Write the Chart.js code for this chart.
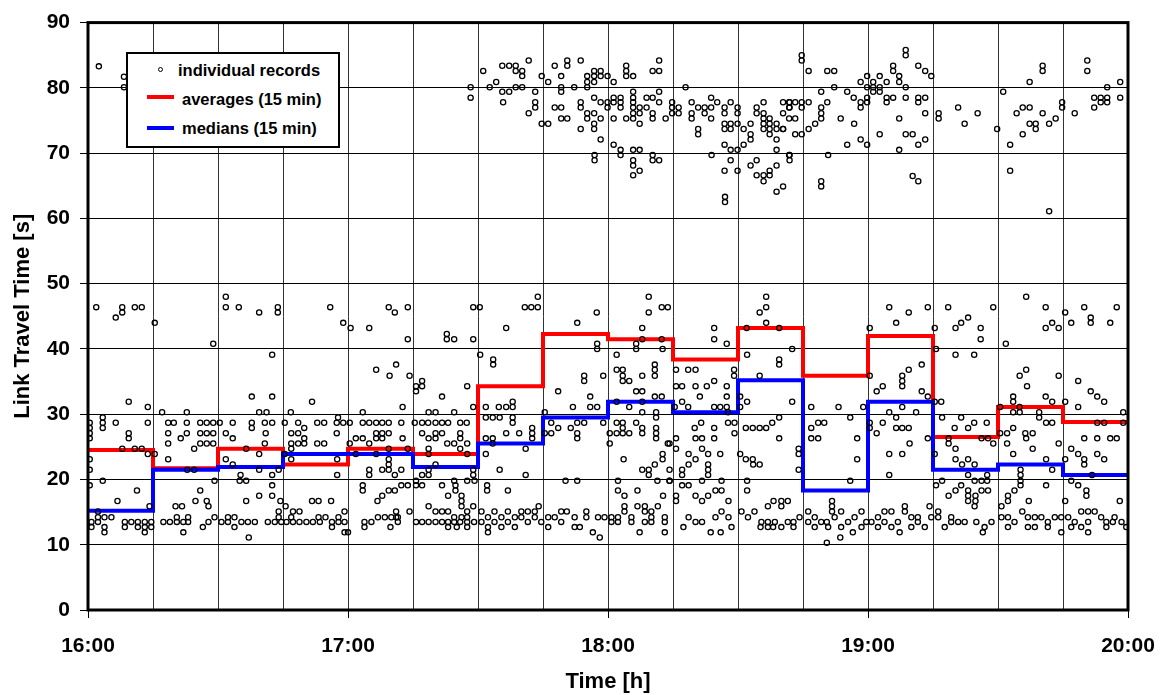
<!DOCTYPE html>
<html>
<head>
<meta charset="utf-8">
<title>Link Travel Time</title>
<script src="https://cdn.jsdelivr.net/npm/chart.js@4.4.1/dist/chart.umd.min.js"></script>
<style>
    html, body { margin: 0; padding: 0; background: #fff; }
    #wrap { position: relative; width: 1160px; height: 695px; }
    #legend {
        position: absolute; left: 126px; top: 52px; width: 214px; height: 96px;
        box-sizing: border-box; border: 2px solid #000; background: #fff;
        font: bold 16.5px "Liberation Sans", Arial, sans-serif; color: #000;
    }
    #legend .txt { position: absolute; line-height: 20px; white-space: nowrap; }
    #legend .dot { position: absolute; width: 3px; height: 3px; border: 1px solid #000; border-radius: 50%; }
    #legend .bar { position: absolute; width: 27px; height: 4px; }
</style>
</head>
<body>
<div id="wrap">
    <canvas id="chart" width="1160" height="695"></canvas>
    <div id="legend">
        <span class="dot" style="left:29.5px; top:12.5px;"></span>
        <span class="txt" style="left:50px; top:5.5px;">individual records</span>
        <span class="bar" style="left:19px; top:41px; background:#ff0000;"></span>
        <span class="txt" style="left:54px; top:34.5px;">averages (15 min)</span>
        <span class="bar" style="left:19px; top:71.5px; background:#0000ff;"></span>
        <span class="txt" style="left:54px; top:64px;">medians (15 min)</span>
    </div>
</div>
<script>
"use strict";

// ===== DATA =====
// x values are minutes after 16:00
const hourLabels = ['16:00', '17:00', '18:00', '19:00', '20:00'];
const slotStarts = [0, 15, 30, 45, 60, 75, 90, 105, 120, 135, 150, 165, 180, 195, 210, 225, 240];
const averages = [24.5, 21.7, 24.7, 22.3, 24.7, 23.9, 34.3, 42.3, 41.5, 38.4, 43.2, 35.9, 42.0, 26.5, 31.1, 28.8];
const medians = [15.2, 21.5, 21.9, 23.9, 23.9, 21.9, 25.5, 29.5, 31.9, 30.3, 35.2, 18.3, 31.9, 21.5, 22.3, 20.7];

// individual records [minute, seconds]
const records = [
    // 16:00 - 17:00
    [1.9,46.4],[6.4,44.8],[7.9,46.4],[7.9,45.6],[10.8,46.4],[12.4,46.4],[15.4,44.0],[15.4,23.9],
    [9.4,31.9],[13.8,31.1],[0.4,28.7],[0.4,27.9],[0.4,27.1],[0.4,26.3],[3.4,29.5],[3.4,28.7],[3.4,27.9],
    [6.4,28.7],[9.4,27.1],[9.4,26.3],[7.9,24.7],[10.8,24.7],[12.4,24.7],[13.8,28.7],[13.8,23.9],[0.4,23.1],
    [0.4,21.5],[3.4,19.8],[0.4,19.1],[11.3,18.3],[6.8,16.7],[14.2,15.9],[2.3,15.1],
    [0.8,13.5],[2.3,14.2],[3.8,14.2],[5.4,14.2],[8.5,13.5],[10,13.5],[11.5,13.5],[13.1,13.5],[14.6,13.5],
    [0.8,12.7],[2.3,13.5],[3.8,12.7],[8.5,12.7],[11.5,12.7],[13.1,12.7],[14.6,12.7],[3.8,11.9],[13.1,11.9],
    [2.5,83.3],[8.3,81.7],[8.3,80.1],
    [17.1,30.3],[22.8,30.3],[18.5,28.7],[19.8,28.7],[22.8,28.7],[25.9,28.7],[27.4,28.7],[28.9,28.7],
    [18.5,27.1],[22.8,27.1],[25.9,27.1],[27.4,27.1],[28.9,27.1],[21.4,26.3],[18.5,25.5],[25.9,25.5],
    [27.4,25.5],[28.9,25.5],[24.5,24.7],[18.5,23.1],[22.9,21.5],[24.5,21.5],[29.2,19.8],[25.9,18.3],
    [24.8,16.7],[27.4,16.7],[27.8,15.9],[20.2,15.9],[21.7,15.9],[20.5,14.2],[23.1,14.2],[29.2,14.2],
    [17.4,13.5],[18.9,13.5],[20.5,13.5],[22,13.5],[23.1,13.5],[27.8,13.5],[22,11.9],[26.5,12.7],[28.9,40.8],
    [31.8,48.0],[31.8,46.4],[34.8,46.4],[39.5,45.6],[43.8,46.4],[43.8,45.6],[42.5,39.1],[37.8,32.7],
    [42.5,32.7],[39.5,30.3],[41.2,30.3],[30.4,28.7],[33.4,28.7],[37.8,28.7],[40.8,28.7],[42.5,28.7],
    [31.8,27.1],[37.8,27.9],[41,27.1],[33.4,26.3],[40.8,25.5],[36.5,24.7],[39.5,23.9],[31.8,23.1],
    [33.4,22.3],[39.5,21.5],[42.5,20.7],[44,21.5],[35.2,20.7],[35,19.8],[36.5,19.8],[42.5,19.1],
    [39.5,17.5],[42.5,17.5],[36.5,16.7],[44.4,16.7],[44,15.1],[32.3,14.2],[33.8,14.2],[44,14.2],
    [30.8,13.5],[32.3,13.5],[35.4,13.5],[36.9,13.5],[38.5,13.5],[41.5,13.5],[43.1,13.5],[44.6,13.5],
    [33.8,12.7],[37.1,11.1],
    [55.9,46.4],[58.9,44.0],[51.7,31.9],[46.8,30.3],[57.7,29.5],[45.4,28.7],[48.5,28.7],[52.9,28.7],
    [54.5,28.7],[57.4,28.7],[58.9,28.7],[49.9,27.9],[46.9,27.1],[48.5,27.1],[57.4,27.1],[49.9,26.3],
    [46.9,25.5],[48.5,25.5],[49.9,25.5],[52.9,25.5],[54.5,25.5],[46.9,24.7],[57.5,23.1],[46.9,23.1],
    [45.4,23.9],[57.5,20.7],[45.6,15.9],[47.3,15.1],[48.8,15.1],[51.7,16.7],[53.2,16.7],[56.1,16.7],
    [59.2,15.1],[46.9,14.2],[53.2,14.2],[54.8,14.2],[57.8,14.2],[45.8,13.5],[47.3,13.5],[48.8,13.5],
    [50.4,13.5],[51.9,13.5],[53.5,13.5],[56.3,13.5],[57.8,13.5],[59.2,13.5],[59.2,11.9],[56.3,12.7],
    // 17:00 - 18:00
    [60.6,43.2],[64.9,43.2],[69.4,46.4],[70.8,45.6],[73.8,46.4],[73.8,41.5],[66.5,36.8],[69.6,35.9],
    [71.1,37.6],[74.2,35.9],[72.6,31.1],[63.4,30.3],[60.4,28.7],[63.4,28.7],[64.9,28.7],[66.5,28.7],
    [67.9,28.7],[69.4,28.7],[72.3,28.7],[66.5,27.1],[67.9,27.1],[69.4,27.1],[61.8,26.3],[63.4,26.3],
    [66.5,26.3],[67.9,26.3],[64.9,25.5],[72.6,26.3],[60.4,25.5],[69.4,24.7],[73.8,24.7],[61.8,23.9],
    [66.5,23.9],[69.4,23.1],[69.4,22.3],[64.9,21.5],[64.9,20.7],[67.9,21.5],[69.4,21.5],[70.8,20.7],
    [72.3,21.5],[63.4,19.1],[63.4,18.3],[69.4,18.3],[70.8,18.3],[67.9,17.5],[66.8,16.7],[72.3,19.1],
    [73.8,19.1],[74.2,15.1],[71.1,15.1],[71.1,14.2],[66.9,14.2],[68.5,14.2],[70,14.2],[71.5,14.2],
    [63.8,13.5],[65.4,13.5],[71.5,13.5],[63.8,12.7],[69.8,12.7],[60,11.9],
    [82.8,42.3],[82.8,41.5],[84.5,41.5],[88.9,41.5],[75.7,34.3],[75.7,33.5],[77.1,35.1],[77.1,34.3],
    [81.7,32.7],[87.5,34.3],[84.5,30.3],[78.6,30.3],[80.2,30.3],[88.9,31.1],[75.4,28.7],[77.1,28.7],
    [78.5,28.7],[80.2,28.7],[81.7,28.7],[83.1,28.7],[85.9,28.7],[87.4,28.7],[77.1,27.1],[80.2,27.1],
    [81.7,27.1],[85.9,27.1],[78.6,26.3],[80.2,26.3],[85.9,26.3],[82.9,25.5],[84.5,25.5],[87.5,25.5],
    [78.6,24.7],[85.9,24.7],[78.6,23.9],[87.5,23.9],[80.2,22.3],[78.6,21.5],[78.6,20.7],[88.9,21.5],
    [88.9,20.7],[89.2,19.8],[77.1,20.7],[87.5,19.8],[84.5,19.8],[75.7,19.8],[77.1,19.1],[75.7,19.1],
    [81.7,19.1],[84.8,19.1],[84.8,18.3],[83.1,17.5],[86.2,17.5],[86.2,16.7],[86.2,15.9],[78.6,15.9],
    [80.2,15.1],[81.7,15.1],[83.1,15.1],[87.5,15.1],[88.9,15.9],[75.7,13.5],[77.1,13.5],[78.6,13.5],
    [80.2,13.5],[81.7,13.5],[83.1,13.5],[84.5,13.5],[85.9,13.5],[87.5,13.5],[89.1,13.5],[84.5,14.2],
    [86.2,14.2],[87.5,14.2],[83.1,12.7],[85.1,12.7],[87.5,12.7],
    [90.4,46.4],[88.9,46.4],[100.8,46.4],[102.3,46.4],[103.8,46.4],[103.8,48.0],[96.5,43.2],[90.5,39.1],
    [93.5,38.4],[93.5,37.6],[91.8,31.1],[94.8,31.1],[96.5,31.1],[98,31.1],[98,31.9],[91.8,29.5],
    [93.4,29.5],[95,29.5],[98,29.5],[98,28.7],[91.8,26.3],[93.4,26.3],[93.4,25.5],[96.5,27.1],
    [99.5,27.1],[102.5,27.9],[102.5,27.1],[102.5,26.3],[101,24.7],[91.8,23.9],[95,21.5],[101,20.7],
    [92.1,19.1],[92.1,18.3],[96.9,18.3],[90.8,15.1],[93.8,15.1],[96.9,15.1],[100,15.1],[101.5,15.1],
    [103.1,15.1],[104,15.9],[92.3,14.2],[95.4,14.2],[98.5,14.2],[100,14.2],[103.1,14.2],[90.8,13.5],
    [93.8,13.5],[96.9,13.5],[101.5,13.5],[104.6,13.5],[92.3,12.7],[95.4,12.7],[98.5,12.7],[92.3,11.9],
    [117.4,45.6],[112.9,44.0],[117.5,40.8],[117.5,40.0],[114.5,35.9],[114.5,35.1],[118.9,35.9],[108.5,33.5],
    [115.9,32.7],[111.9,31.1],[115.9,31.1],[117.5,31.1],[105.4,30.3],[106.9,28.7],[108.5,27.9],[111.4,27.9],
    [112.9,28.7],[114.5,28.7],[118.9,28.7],[112.9,27.1],[112.9,26.3],[105.4,27.1],[106.9,27.1],[110.2,19.8],
    [112.9,19.8],[106.2,14.2],[107.7,14.2],[109.2,15.1],[110.5,15.1],[112.3,14.2],[115,15.1],[115,14.2],
    [117.7,14.2],[119.2,14.2],[106.2,12.7],[109.2,13.5],[112.3,12.7],[113.5,12.7],[116.5,11.9],[118.1,11.1],
    // 18:00 - 19:00
    [129.4,48.0],[129.4,45.6],[132.4,46.4],[133.8,46.4],[127.9,43.2],[127.9,41.5],[132.4,41.5],[126.5,40.8],
    [126.5,40.0],[132.6,40.0],[122,39.1],[122,36.8],[123.4,36.8],[123.4,35.9],[123.4,35.1],[124.9,35.1],
    [127.9,35.9],[130.8,37.6],[130.8,36.8],[130.8,35.9],[126.5,33.5],[127.9,33.5],[130.8,32.7],[132.4,32.7],
    [124.9,31.1],[122,31.9],[127.9,31.9],[127.9,30.3],[131.1,30.3],[131.1,29.5],[122,28.7],[123.4,28.7],
    [123.4,27.9],[126.5,28.7],[127.9,27.9],[131.1,27.9],[131.1,27.1],[120.4,27.1],[122,27.1],[123.4,27.1],
    [124.9,27.1],[127.9,27.1],[131.1,26.3],[120.4,25.5],[133.8,25.5],[134.2,25.5],[132.6,23.9],[132.6,23.1],
    [123.6,23.1],[127.9,21.5],[129.4,21.5],[129.4,20.7],[130.8,22.3],[134.2,21.5],[134.2,19.8],[122.3,19.8],
    [131.4,19.8],[122.3,18.3],[123.8,17.5],[126.8,18.3],[132.7,17.5],[123.8,15.9],[123.8,15.1],[126.8,15.9],
    [128.5,15.9],[128.5,15.1],[130,15.1],[131.5,15.9],[133.1,14.2],[120.8,14.2],[122.3,14.2],[125.4,14.2],
    [130,14.2],[120.8,13.5],[122.3,13.5],[125.4,13.5],[128.5,13.5],[130,13.5],[133.1,13.5],[127.3,11.9],
    [133.1,11.9],
    [144.5,43.2],[144.5,41.5],[147.4,40.8],[135.7,36.8],[138.5,36.8],[140.2,36.8],[144.5,35.1],[135.7,34.3],
    [137.1,34.3],[137.1,31.9],[138.5,31.1],[140.2,34.3],[142.8,34.3],[147.4,34.3],[147.4,32.7],[149.1,36.8],
    [149.1,35.9],[141.2,32.7],[144.5,31.1],[145.9,31.1],[147.4,31.1],[147.7,30.3],[135.4,31.1],[140,27.9],
    [141.5,28.7],[144.5,27.9],[135.7,26.3],[140.2,26.3],[141.7,26.3],[144.5,26.3],[141.7,24.7],[143.1,23.9],
    [145.9,23.9],[135.7,24.7],[138.6,23.9],[140.2,23.1],[138.6,22.3],[137.1,21.5],[137.1,20.7],[143.1,22.3],
    [143.1,21.5],[143.1,20.7],[134.2,19.8],[137.1,19.1],[138.6,19.1],[141.7,19.8],[146.2,19.8],[135.7,17.5],
    [135.7,16.7],[140.2,17.5],[143.1,17.5],[144.8,18.3],[146.2,18.3],[147.8,16.7],[141.7,16.7],[138.6,14.2],
    [140.2,13.5],[141.7,13.5],[144.8,14.2],[146.2,15.1],[147.8,14.2],[137.4,12.7],[143.7,11.9],[146,11.9],
    [148.5,12.7],
    [156.5,48.0],[156.5,46.4],[155,45.6],[156.5,44.0],[152,43.2],[159.5,43.2],[162.5,40.0],[159.5,38.4],
    [159.5,37.6],[152.1,39.1],[155,35.9],[150.5,32.7],[150.5,31.1],[152.1,31.9],[162.5,31.9],[159.5,29.5],
    [157.9,28.7],[147.7,28.7],[149.2,28.7],[149.2,27.1],[151.8,27.9],[153.4,27.9],[155,27.9],[156.5,27.9],
    [159.5,26.3],[164,24.7],[164,23.9],[164,21.5],[150.5,23.9],[151.8,23.1],[153.4,23.1],[153.5,22.3],
    [155,22.3],[152.1,19.8],[152.1,18.3],[158.2,16.7],[160,16.7],[161.5,16.7],[156.9,15.9],[160,15.9],
    [150.8,15.1],[152.3,14.2],[153.8,15.1],[155.4,13.5],[156.9,13.5],[158.5,13.5],[160,12.7],[161.5,13.5],
    [162.8,13.5],[162.8,12.7],[164.2,14.2],[155.2,12.7],[156.9,12.7],[158.1,12.7],
    [166.9,31.1],[173.2,31.1],[178.9,31.1],[175.9,29.5],[168.5,28.7],[169.9,28.7],[166.9,27.9],[166.9,26.3],
    [168.5,26.3],[177.5,26.3],[177.5,23.1],[175.9,19.8],[171.7,16.7],[171.7,15.9],[171.7,15.1],[166.2,15.1],
    [167.7,14.2],[169.2,13.5],[170.5,13.5],[172.3,14.2],[173.8,15.1],[175.4,13.5],[176.9,14.2],[178.5,15.1],
    [179.6,13.5],[166.2,13.5],[167.7,12.7],[170.8,12.7],[173.8,12.7],[176.5,11.9],[178.5,12.7],[170.5,10.3],
    [173.6,11.1],
    // 19:00 - 20:00
    [184.9,46.4],[189.4,45.6],[193.8,46.4],[186.5,44.0],[180.4,43.2],[180.4,35.9],[189.4,36.8],[192.4,37.6],
    [187.9,35.9],[187.9,35.1],[187.9,34.3],[183.4,34.3],[182,33.5],[192.4,33.5],[193.8,32.7],[191.1,30.3],
    [184.9,30.3],[187.9,31.1],[186.5,29.5],[180.4,28.7],[180.4,27.9],[183.4,28.7],[182,27.1],[186.5,27.9],
    [187.9,27.9],[189.4,27.9],[189.6,25.5],[193.8,26.3],[184.9,23.9],[187.9,23.9],[184.9,20.7],[182.3,14.2],
    [183.8,15.1],[185.4,15.1],[186.9,13.5],[188.5,15.9],[188.5,15.1],[190,14.2],[191.5,14.2],[193.1,12.7],
    [194.2,15.9],[194.6,14.2],[180.8,13.5],[182.3,12.7],[183.8,13.5],[185.4,12.7],[190,12.7],[191.5,13.5],
    [187.3,11.9],
    [198.5,46.4],[208.9,46.4],[195.4,43.2],[200.2,43.2],[201.5,44.0],[203.1,44.8],[206,43.2],[206,41.5],
    [195.7,40.0],[200.2,39.1],[204.5,39.1],[195.4,31.9],[196.9,31.9],[197.1,29.5],[201.5,29.5],[204.5,28.7],
    [207.4,28.7],[200,27.9],[203.1,27.9],[198.6,26.3],[198.6,25.5],[200.2,24.7],[195.4,23.9],[200.2,23.1],
    [201.7,22.3],[203.1,23.1],[204.6,22.3],[206.2,26.3],[207.7,26.3],[208.9,25.5],[195.7,19.1],[197.1,19.8],
    [198.6,17.5],[200.2,18.3],[201.5,19.1],[203.1,18.3],[203.1,17.5],[203.1,16.7],[204.8,17.5],[204.8,16.7],
    [206.2,18.3],[207.7,18.3],[204.6,15.9],[203.1,20.7],[204.6,19.8],[206.2,19.8],[207.5,20.7],[207.5,19.8],
    [196.2,15.1],[196.2,14.2],[199.2,14.2],[200.8,13.5],[202.3,13.5],[205,13.5],[206.9,12.7],[208.5,13.5],
    [197.7,12.7],[199.2,13.5],[206.5,11.9],
    [216.5,48.0],[221,46.4],[211.8,40.8],[221,43.2],[222.5,44.0],[224,43.2],[216.5,36.8],[215,35.9],
    [216.7,34.3],[213.5,32.7],[213.5,31.9],[221,32.7],[222.5,31.9],[224,35.9],[219.5,30.3],[219.5,29.5],
    [215,31.1],[210.5,31.1],[213.5,30.3],[215,30.3],[221.1,28.7],[222.5,28.7],[213.5,27.9],[210.5,27.1],
    [212.1,27.1],[216.3,27.1],[218,27.1],[216.5,26.3],[224,25.5],[218,24.7],[212.1,25.5],[213.5,23.9],
    [221.1,23.1],[222.5,21.5],[215.2,21.5],[215.2,20.7],[215.2,19.8],[215.2,19.1],[213.8,18.3],[212.3,17.5],
    [212.3,16.7],[217.1,16.7],[210.8,15.9],[221.1,19.1],[215.6,15.1],[210.8,14.2],[212.3,14.2],[213.8,13.5],
    [216.9,14.2],[218.5,14.2],[220,14.2],[221.5,13.5],[223.1,14.2],[224.6,14.2],[212.3,12.7],[216.9,12.7],
    [218.5,12.7],[221.5,12.7],[224.6,11.9],
    [225.5,45.6],[226.9,44.0],[229.9,46.4],[231.4,44.8],[231.4,44.0],[235.9,44.0],[237.4,46.4],[228.5,35.1],
    [231.4,33.5],[232.9,32.7],[234.5,31.9],[228.5,31.1],[225.5,31.9],[238.9,30.3],[232.9,28.7],[234.5,28.7],
    [238.9,28.7],[229.9,26.3],[232.9,26.3],[235.9,26.3],[237.4,26.3],[226.9,24.7],[228.5,23.9],[229.9,23.1],
    [229.9,22.3],[232.9,23.9],[234.5,23.1],[225.5,23.1],[226.9,19.8],[228.5,19.1],[230.4,18.3],[230.4,17.5],
    [231.7,20.7],[238.1,16.7],[225.5,16.7],[226.2,14.2],[229.2,15.1],[230.8,15.1],[232.3,15.1],[227.7,13.5],
    [230.8,13.5],[233.8,14.2],[235,13.5],[236.9,14.2],[238.5,13.5],[239.6,12.7],[226.9,12.7],[229.2,12.7],
    [230.8,11.9],[235,12.7],[236.5,13.5],
    // congested cluster 17:30 - 19:00 (upper band)
    [88.3,80.1],[88.3,78.5],[91.2,82.6],[92.7,80.1],[94.2,80.9],[95.6,83.4],[97.2,83.4],[98.7,83.4],
    [98.7,82.6],[100.2,82.6],[100.2,81.8],[101.7,84.2],[95.6,79.4],[97.2,79.4],[95.8,77.8],[98.7,80.1],
    [100.2,80.1],[101.7,76.1],[103.2,79.4],[103.2,77.8],[103.2,77.0],[104.7,81.8],[106.2,80.9],[104.7,74.5],
    [106.2,74.5],[107.7,83.4],[109.2,81.8],[110.6,84.2],[110.6,83.4],[113.7,84.2],[109.2,80.1],[109.2,79.4],
    [112.2,80.1],[115.2,80.1],[107.7,77.0],[109.2,77.0],[109.2,75.3],[110.6,75.3],[113.7,77.8],[113.7,77.0],
    [113.7,73.7],[115.2,81.8],[115.2,80.9],[116.8,82.6],[116.8,81.8],[116.8,80.9],[118.3,82.6],[118.3,81.8],
    [119.9,81.8],[116.8,78.5],[118.3,77.8],[119.9,77.8],[119.9,77.0],[115.2,76.1],[115.2,75.3],[116.8,76.1],
    [118.3,75.3],[116.8,74.5],[116.8,73.7],[118.3,72.1],[121.3,80.9],[121.3,78.5],[121.3,77.8],[122.9,78.5],
    [122.9,77.8],[122.9,77.0],[121.3,75.3],[124.2,83.4],[124.2,82.6],[124.2,81.8],[125.8,81.8],[125.8,79.4],
    [125.8,78.5],[125.8,77.8],[125.8,77.0],[127.3,77.0],[127.3,76.1],[128.9,78.5],[128.9,77.0],[124.2,75.3],
    [125.8,76.1],[125.8,75.3],[127.3,74.5],[130.3,82.6],[131.8,82.6],[131.8,84.2],[131.8,79.4],[130.3,78.5],
    [131.8,77.8],[130.3,76.1],[130.3,75.3],[133.3,75.3],[134.8,77.8],[134.8,77.0],[134.8,76.1],[136.3,77.0],
    [136.3,76.1],[137.9,80.1],[139.3,77.8],[139.3,76.1],[139.3,75.3],[140.8,77.0],[142.3,77.0],[142.3,76.1],
    [143.8,78.5],[143.8,77.0],[143.8,75.3],[145.2,77.8],[140.8,73.7],[140.8,72.9],[146.9,77.0],[146.9,76.1],
    [146.9,74.5],[146.9,73.7],[148.3,77.8],[148.3,74.5],[148.3,73.7],[149.9,77.0],[149.9,76.1],[149.9,74.5],
    [151.3,73.7],[152.9,74.5],[152.9,72.9],[152.9,72.1],[154.3,77.0],[154.3,76.1],[155.9,77.8],[155.9,76.1],
    [155.9,75.3],[155.9,74.5],[155.9,73.7],[157.3,75.3],[157.3,74.5],[157.3,73.7],[157.3,72.9],[158.9,74.5],
    [158.9,73.7],[158.9,72.1],[160.4,77.8],[160.4,76.1],[160.4,73.7],[161.9,77.8],[161.9,77.0],[146.9,71.3],
    [148.3,70.5],[149.9,70.5],[151.3,71.3],[158.9,70.5],[161.9,69.7],[161.9,68.9],[116.9,69.7],[116.9,68.9],
    [121.3,71.3],[122.9,70.5],[122.9,69.7],[125.8,70.5],[127.3,70.5],[125.8,68.9],[125.8,68.1],[125.8,66.6],
    [127.3,67.3],[130.3,69.7],[130.3,68.9],[131.8,68.9],[143.9,69.7],[146.9,67.3],[148.3,68.9],[149.9,67.3],
    [152.9,68.1],[154.3,68.9],[154.3,66.6],[155.9,66.6],[155.9,65.7],[157.3,66.6],[157.3,67.3],[158.9,68.1],
    [160.4,64.9],[158.9,64.1],[147,63.3],[147,62.5],
    // upper band 18:40 - 20:00
    [161.8,77.8],[163.2,77.8],[164.7,77.8],[166.3,77.8],[161.8,77.0],[161.8,75.3],[163.2,75.3],[164.7,77.0],
    [164.7,72.9],[163.2,72.9],[160.4,73.7],[161.8,69.7],[164.7,85.0],[164.7,84.2],[166.3,82.6],[170.6,82.6],
    [172.2,82.6],[172.2,80.1],[169.2,79.4],[169.2,77.0],[169.2,76.1],[169.2,75.3],[170.6,77.8],[167.8,74.5],
    [166.3,73.7],[170.8,69.7],[169.2,65.7],[169.2,64.9],[173.7,75.3],[175.2,79.4],[176.7,78.5],[178.3,77.8],
    [178.3,77.0],[176.8,74.5],[175.2,71.3],[178.3,72.1],[179.8,71.3],[178.3,80.9],[179.8,81.8],[179.8,80.1],
    [179.8,78.5],[179.8,77.8],[181.2,80.9],[181.2,80.1],[181.2,79.4],[182.7,81.8],[182.7,80.1],[182.7,79.4],
    [184.3,80.9],[184.3,78.5],[184.3,77.8],[185.8,78.5],[185.8,83.4],[185.8,82.6],[187.2,81.8],[187.2,80.9],
    [188.7,80.1],[188.7,78.5],[188.7,85.8],[188.7,85.0],[187.2,75.3],[187.2,70.5],[182.7,72.9],[191.6,83.4],
    [193.2,82.6],[194.6,81.8],[191.6,78.5],[191.6,77.8],[193.2,78.5],[193.2,76.1],[188.7,72.9],[190.3,72.9],
    [193.2,72.1],[191.6,71.3],[190.3,66.5],[191.6,65.7],[196.3,76.1],[196.3,75.3],[200.8,77.0],[202.3,74.5],
    [205.3,76.1],[209.8,73.7],[211.2,79.4],[212.8,71.3],[212.8,67.3],[214.3,76.1],[215.7,77.0],[217.3,77.0],
    [215.7,72.9],[217.3,74.5],[218.7,74.5],[218.7,73.7],[220.3,76.1],[217.3,80.9],[220.3,83.4],[220.3,82.6],
    [221.8,74.5],[223.3,75.3],[224.8,77.8],[224.8,77.0],[227.7,76.1],[230.6,84.2],[230.6,82.6],[232.2,78.5],
    [232.2,77.0],[233.7,78.5],[233.7,77.8],[235.2,78.5],[235.2,77.8],[235.2,80.1],[238.2,80.9],[238.2,78.5],
    [221.8,61.1]
];

// ===== CHART =====
Chart.defaults.font.family = '"Liberation Sans", Arial, sans-serif';
Chart.defaults.color = '#000';

// slot values + one closing point at 20:00 so the last step is drawn
function stepSeries(values) {
    return slotStarts.map((m, i) => ({ x: m, y: values[Math.min(i, values.length - 1)] }));
}

// thick frame around the plot area
const framePlugin = {
    id: 'frame',
    afterDatasetsDraw(chart) {
        const { ctx, chartArea: a } = chart;
        ctx.save();
        ctx.strokeStyle = '#000';
        ctx.lineWidth = 3;
        ctx.strokeRect(a.left, a.top, a.right - a.left, a.bottom - a.top);
        ctx.restore();
    }
};

const ctx = document.getElementById('chart');
new Chart(ctx, {
    type: 'scatter',
    data: {
        datasets: [
            {
                label: 'individual records',
                data: records.map(r => ({ x: r[0], y: r[1] })),
                pointRadius: 2.6,
                pointBorderWidth: 1.3,
                borderColor: '#000',
                backgroundColor: 'rgba(0,0,0,0)',
                order: 0
            },
            {
                type: 'line',
                label: 'medians (15 min)',
                data: stepSeries(medians),
                stepped: 'before',
                borderColor: '#0000ff',
                borderWidth: 4,
                pointRadius: 0,
                fill: false,
                order: 1
            },
            {
                type: 'line',
                label: 'averages (15 min)',
                data: stepSeries(averages),
                stepped: 'before',
                borderColor: '#ff0000',
                borderWidth: 4,
                pointRadius: 0,
                fill: false,
                order: 2
            }
        ]
    },
    options: {
        responsive: false,
        animation: false,
        devicePixelRatio: 1,
        layout: { padding: { top: 22, right: 32, bottom: 0, left: 0 } },
        plugins: { legend: { display: false }, tooltip: { enabled: false } },
        scales: {
            x: {
                type: 'linear',
                min: 0,
                max: 240,
                afterFit(scale) {
                    scale.height = 85;
                    // let layout.padding alone decide the plot's right edge
                    scale.paddingLeft = 0;
                    scale.paddingRight = 0;
                },
                ticks: {
                    stepSize: 15,
                    autoSkip: false,
                    maxRotation: 0,
                    padding: 16,
                    font: { size: 21, weight: 'bold' },
                    callback: v => (v % 60 === 0 ? hourLabels[v / 60] : '')
                },
                grid: {
                    color: '#333',
                    lineWidth: 1,
                    tickLength: 8,
                    tickColor: c => (c.tick && c.tick.value % 60 === 0 ? '#000' : 'rgba(0,0,0,0)')
                },
                border: { display: false },
                title: {
                    display: true,
                    text: 'Time [h]',
                    font: { size: 22, weight: 'bold' },
                    padding: { top: 0, bottom: 0 }
                }
            },
            y: {
                min: 0,
                max: 90,
                afterFit(scale) { scale.width = 88; },
                ticks: {
                    stepSize: 10,
                    padding: 10,
                    font: { size: 21, weight: 'bold' }
                },
                grid: { color: '#000', lineWidth: 1, tickLength: 8, tickColor: '#000' },
                border: { display: false },
                title: {
                    display: true,
                    text: 'Link Travel Time [s]',
                    font: { size: 22, weight: 'bold' },
                    padding: { top: 10, bottom: 0 }
                }
            }
        }
    },
    plugins: [framePlugin]
});
</script>
</body>
</html>
